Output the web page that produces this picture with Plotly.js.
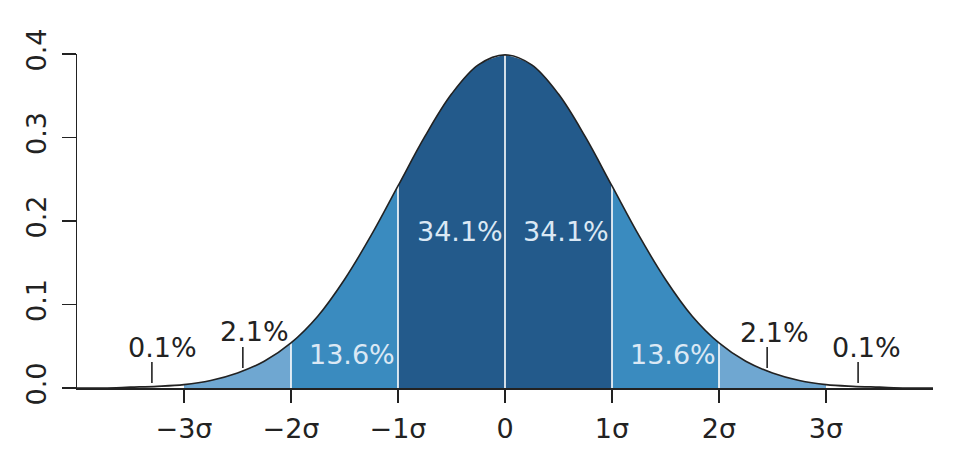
<!DOCTYPE html>
<html>
<head>
<meta charset="utf-8">
<script src="https://cdn.plot.ly/plotly-3.0.1.min.js"></script>
<style>
  html, body { margin: 0; padding: 0; background: #fff; }
  #chart { width: 977px; height: 462px; }
</style>
</head>
<body>
<div id="chart"></div>
<script>
// density, every quarter sigma
const sigmaX = [-4, -3.75, -3.5, -3.25, -3, -2.75, -2.5, -2.25, -2, -1.75, -1.5, -1.25, -1, -0.75, -0.5, -0.25,
                0, 0.25, 0.5, 0.75, 1, 1.25, 1.5, 1.75, 2, 2.25, 2.5, 2.75, 3, 3.25, 3.5, 3.75, 4];
const density = [0.000, 0.000, 0.001, 0.002, 0.004, 0.009, 0.018, 0.032, 0.054, 0.086, 0.130, 0.183, 0.242, 0.301, 0.352, 0.387,
                 0.399, 0.387, 0.352, 0.301, 0.242, 0.183, 0.130, 0.086, 0.054, 0.032, 0.018, 0.009, 0.004, 0.002, 0.001, 0.000, 0.000];

// bands between sigma boundaries
const bandFrom = [-3, -2, -1, 0, 1, 2];
const bandTo = [-2, -1, 0, 1, 2, 3];
const bandShare = ['2.1%', '13.6%', '34.1%', '34.1%', '13.6%', '2.1%'];
const bandColor = ['#6fa7d1', '#3a8bbf', '#235a8b', '#235a8b', '#3a8bbf', '#6fa7d1'];

const tickVals = [-3, -2, -1, 0, 1, 2, 3];
const tickText = ['\u22123\u03c3', '\u22122\u03c3', '\u22121\u03c3', '0', '1\u03c3', '2\u03c3', '3\u03c3'];

// outside labels and their little pointers
const tailLabel = ['0.1%', '2.1%', '2.1%', '0.1%'];
const tailX = [-3.3, -2.45, 2.45, 3.3];

const traces = [];

bandFrom.forEach((a, i) => {
    const xs = [], ys = [];
    sigmaX.forEach((x, j) => {
        if (x >= a && x <= bandTo[i]) { xs.push(x); ys.push(density[j]); }
    });
    traces.push({
        x: xs, y: ys, type: 'scatter', mode: 'lines',
        line: {width: 0, shape: 'spline', smoothing: 1},
        fill: 'tozeroy', fillcolor: bandColor[i],
        hoverinfo: 'skip', showlegend: false
    });
});

// white separators at the sigma boundaries
const sepX = [], sepY = [];
[-2, -1, 0, 1, 2].forEach(b => {
    const j = sigmaX.indexOf(b);
    sepX.push(b, b, null);
    sepY.push(0, density[j], null);
});
traces.push({
    x: sepX, y: sepY, type: 'scatter', mode: 'lines',
    line: {color: '#ffffff', width: 1.6},
    hoverinfo: 'skip', showlegend: false
});

// the curve itself
traces.push({
    x: sigmaX, y: density, type: 'scatter', mode: 'lines',
    line: {color: '#222', width: 1.6, shape: 'spline', smoothing: 1},
    hoverinfo: 'skip', showlegend: false, cliponaxis: false
});

// pointers for the tail labels
const ptrX = [], ptrY = [];
tailX.forEach((x, i) => {
    const lo = Math.abs(x) > 3 ? 0.006 : 0.024;
    ptrX.push(x, x, null);
    ptrY.push(lo, lo + 0.025, null);
});
traces.push({
    x: ptrX, y: ptrY, type: 'scatter', mode: 'lines',
    line: {color: '#222', width: 1.6},
    hoverinfo: 'skip', showlegend: false
});

const font = {family: 'DejaVu Sans', size: 27, color: '#222'};
const inner = {family: 'DejaVu Sans', size: 27, color: '#dbe8f4'};

const annotations = [
    {x: -3.2, y: 0.048, text: tailLabel[0], font: font},
    {x: -2.34, y: 0.068, text: tailLabel[1], font: font},
    {x: 2.52, y: 0.067, text: tailLabel[2], font: font},
    {x: 3.38, y: 0.049, text: tailLabel[3], font: font},
    {x: -1.43, y: 0.040, text: bandShare[1], font: inner},
    {x: -0.42, y: 0.188, text: bandShare[2], font: inner},
    {x: 0.57, y: 0.188, text: bandShare[3], font: inner},
    {x: 1.57, y: 0.040, text: bandShare[4], font: inner}
].map(a => Object.assign({showarrow: false, xanchor: 'center', yanchor: 'middle'}, a));

const layout = {
    width: 977, height: 462,
    margin: {l: 77, r: 44, t: 54, b: 74},
    paper_bgcolor: '#fff', plot_bgcolor: '#fff',
    showlegend: false,
    font: font,
    xaxis: {
        range: [-4, 4], showgrid: false, zeroline: false,
        showline: true, linecolor: '#222', linewidth: 1.5,
        ticks: 'outside', ticklen: 13, tickwidth: 1.5, tickcolor: '#222',
        tickvals: tickVals, ticktext: tickText, tickfont: font,
        ticklabelstandoff: 3
    },
    yaxis: {
        range: [0, 0.4], showgrid: false, zeroline: false,
        showline: true, linecolor: '#222', linewidth: 1.5,
        ticks: 'outside', ticklen: 14, tickwidth: 1.5, tickcolor: '#222',
        tickvals: [0, 0.1, 0.2, 0.3, 0.4], tickformat: '.1f', tickangle: -90,
        tickfont: font, ticklabelstandoff: 5
    },
    annotations: annotations
};

Plotly.newPlot('chart', traces, layout, {staticPlot: true});
</script>
</body>
</html>
